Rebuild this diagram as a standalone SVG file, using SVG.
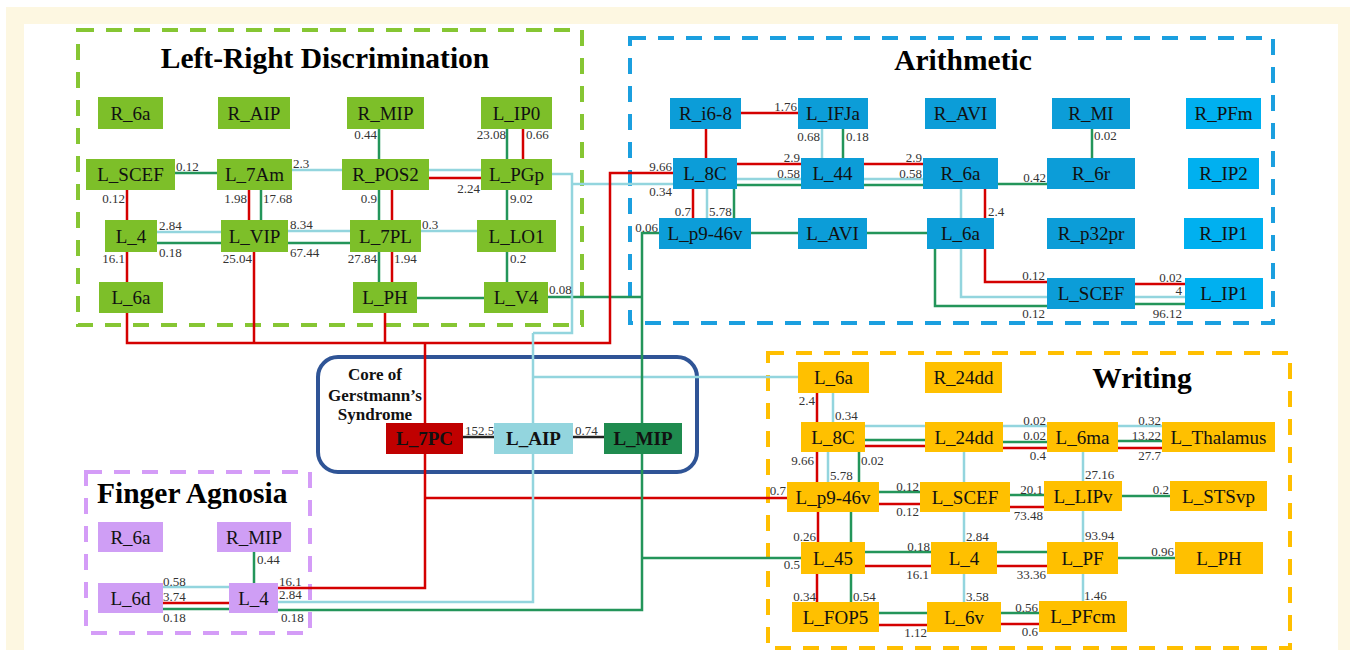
<svg xmlns="http://www.w3.org/2000/svg" width="1356" height="650" viewBox="0 0 1356 650">
<style>
.n{font-family:"Liberation Serif","Times New Roman",serif;font-size:19px;fill:#111;text-anchor:middle}
.nb{font-family:"Liberation Serif","Times New Roman",serif;font-size:19px;font-weight:bold;fill:#111;text-anchor:middle}
.t{font-family:"Liberation Serif","Times New Roman",serif;font-size:29.5px;font-weight:bold;fill:#000}
.ct{font-family:"Liberation Serif","Times New Roman",serif;font-size:17px;font-weight:bold;fill:#111;text-anchor:middle}
.l{font-family:"Liberation Serif","Times New Roman",serif;font-size:13px;fill:#333}
.e{text-anchor:end}
.fg{fill:#7dbf29}.fa{fill:#0c9dd8}.fc{fill:#00b0f0}.fw{fill:#ffc000}.fp{fill:#cf9ef5}
.r,.b,.g,.k{fill:none;stroke-width:2.5}
.r{stroke:#d40000}.b{stroke:#93d5de}.g{stroke:#23955a}.k{stroke:#222}
.frame{fill:none;stroke-width:4;stroke-dasharray:16 12}
</style>
<rect x="0" y="0" width="1356" height="650" fill="#ffffff"/>
<rect x="6" y="7" width="1344" height="643" fill="#fdf7e1"/>
<rect x="24" y="24" width="1314" height="626" fill="#ffffff"/>

<g id="frames">
<rect class="frame" x="78" y="30" width="504" height="295" stroke="#86c633"/>
<rect class="frame" x="630" y="38" width="643" height="285" stroke="#1b9fdf"/>
<rect class="frame" x="768" y="353" width="522" height="295" stroke="#ffbf00"/>
<rect class="frame" x="86" y="472" width="224" height="161" stroke="#d49cf7"/>
<rect x="318" y="357" width="379" height="115" rx="20" fill="none" stroke="#2f5496" stroke-width="4"/>
<text class="t" x="325" y="68" text-anchor="middle">Left-Right Discrimination</text>
<text class="t" x="963" y="70" text-anchor="middle">Arithmetic</text>
<text class="t" x="1142" y="388" text-anchor="middle">Writing</text>
<text class="t" x="97" y="503">Finger Agnosia</text>
<text class="ct" x="375" y="380">Core of</text>
<text class="ct" x="375" y="401">Gerstmann’s</text>
<text class="ct" x="375" y="420">Syndrome</text>
</g>

<g id="connectors">
<!-- Left-Right Discrimination -->
<path class="g" d="M175 173H217"/>
<path class="r" d="M127 190V220"/>
<path class="r" d="M127 252V282"/>
<path class="r" d="M249 190V220"/>
<path class="g" d="M261 190V220"/>
<path class="b" d="M157 232H221"/>
<path class="g" d="M157 243H221"/>
<path class="b" d="M292 170H481"/>
<path class="r" d="M429 178H481"/>
<path class="g" d="M379 129V159"/>
<path class="g" d="M507 129V159"/>
<path class="r" d="M523 129V159"/>
<path class="g" d="M379 190V220"/>
<path class="r" d="M392 190V220"/>
<path class="g" d="M507 190V220"/>
<path class="b" d="M288 231H477"/>
<path class="g" d="M288 243H350"/>
<path class="g" d="M379 252V282"/>
<path class="r" d="M392 252V282"/>
<path class="g" d="M507 252V282"/>
<path class="g" d="M417 298H484"/>
<!-- core trunks -->
<path class="g" d="M548 297H642"/>
<path class="b" d="M552 174H572V333H533"/>
<path class="b" d="M572 184H673"/>
<path class="r" d="M127 313V343H610V173H673"/>
<path class="r" d="M254 252V343"/>
<path class="r" d="M385 313V343"/>
<path class="r" d="M425 343V588H278"/>
<path class="r" d="M425 498H787"/>
<path class="b" d="M533 333V602H278"/>
<path class="b" d="M533 377H798"/>
<path class="g" d="M659 233H642V610H278"/>
<path class="g" d="M642 558H801"/>
<path class="k" d="M463 437H494"/>
<path class="k" d="M573 437H604"/>
<!-- Arithmetic -->
<path class="r" d="M741 113H798"/>
<path class="r" d="M706 129V158"/>
<path class="b" d="M822 129V158"/>
<path class="g" d="M843 129V158"/>
<path class="r" d="M737 164H801"/>
<path class="r" d="M864 164H923"/>
<path class="b" d="M737 179H923"/>
<path class="g" d="M737 185H923"/>
<path class="g" d="M998 184H1047"/>
<path class="g" d="M1092 129V158"/>
<path class="b" d="M961 189V218"/>
<path class="b" d="M961 249V297H1047"/>
<path class="r" d="M985 189V218"/>
<path class="r" d="M985 249V282H1047"/>
<path class="g" d="M935 249V306H1047"/>
<path class="r" d="M1135 284H1185"/>
<path class="b" d="M1135 297H1185"/>
<path class="g" d="M1135 304H1185"/>
<path class="r" d="M693 189V218"/>
<path class="b" d="M707 189V218"/>
<path class="g" d="M734 189V218"/>
<path class="g" d="M751 233H798"/>
<path class="g" d="M867 233H927"/>
<!-- Writing -->
<path class="r" d="M817 393V422"/>
<path class="b" d="M833 393V422"/>
<path class="b" d="M865 426H1047"/>
<path class="g" d="M865 440H925"/>
<path class="r" d="M865 446H925"/>
<path class="g" d="M1003 442H1047"/>
<path class="r" d="M1003 448H1047"/>
<path class="b" d="M1118 426H1162"/>
<path class="g" d="M1118 441H1162"/>
<path class="r" d="M1118 448H1162"/>
<path class="b" d="M1083 452V481"/>
<path class="r" d="M817 452V482"/>
<path class="b" d="M828 452V482"/>
<path class="g" d="M859 452V482"/>
<path class="b" d="M964 452V482"/>
<path class="g" d="M879 492H920"/>
<path class="r" d="M879 504H920"/>
<path class="g" d="M1010 495H1044"/>
<path class="r" d="M1010 507H1044"/>
<path class="g" d="M1122 496H1170"/>
<path class="b" d="M1083 511V542"/>
<path class="r" d="M818 512V542"/>
<path class="g" d="M851 512V542"/>
<path class="b" d="M964 512V542"/>
<path class="g" d="M865 552H931"/>
<path class="r" d="M865 566H931"/>
<path class="g" d="M997 552H1047"/>
<path class="r" d="M997 566H1047"/>
<path class="g" d="M1118 558H1175"/>
<path class="r" d="M817 574V602"/>
<path class="g" d="M851 574V602"/>
<path class="b" d="M964 574V602"/>
<path class="b" d="M1083 574V601"/>
<path class="g" d="M879 613H927"/>
<path class="r" d="M879 625H927"/>
<path class="g" d="M1001 613H1039"/>
<path class="r" d="M1001 624H1039"/>
<!-- Finger Agnosia -->
<path class="g" d="M254 552V583"/>
<path class="b" d="M163 587H229"/>
<path class="r" d="M163 603H229"/>
<path class="g" d="M163 609H229"/>

<!-- labels -->
<text class="l" x="176" y="171">0.12</text>
<text class="l e" x="125" y="203">0.12</text>
<text class="l e" x="125" y="263">16.1</text>
<text class="l e" x="247" y="203">1.98</text>
<text class="l" x="263" y="203">17.68</text>
<text class="l" x="159" y="230">2.84</text>
<text class="l" x="159" y="257">0.18</text>
<text class="l e" x="252" y="263">25.04</text>
<text class="l" x="293" y="168">2.3</text>
<text class="l" x="290" y="229">8.34</text>
<text class="l" x="290" y="257">67.44</text>
<text class="l e" x="377" y="139">0.44</text>
<text class="l e" x="506" y="139">23.08</text>
<text class="l" x="526" y="139">0.66</text>
<text class="l e" x="480" y="193">2.24</text>
<text class="l e" x="377" y="203">0.9</text>
<text class="l" x="510" y="203">9.02</text>
<text class="l" x="422" y="229">0.3</text>
<text class="l e" x="377" y="263">27.84</text>
<text class="l" x="394" y="263">1.94</text>
<text class="l" x="510" y="263">0.2</text>
<text class="l" x="549" y="294">0.08</text>

<text class="l e" x="797" y="111">1.76</text>
<text class="l e" x="820" y="141">0.68</text>
<text class="l" x="846" y="141">0.18</text>
<text class="l e" x="672" y="171">9.66</text>
<text class="l e" x="672" y="196">0.34</text>
<text class="l e" x="800" y="162">2.9</text>
<text class="l e" x="800" y="178">0.58</text>
<text class="l e" x="922" y="162">2.9</text>
<text class="l e" x="922" y="178">0.58</text>
<text class="l e" x="691" y="216">0.7</text>
<text class="l" x="709" y="216">5.78</text>
<text class="l e" x="658" y="232">0.06</text>
<text class="l e" x="1046" y="182">0.42</text>
<text class="l" x="1094" y="140">0.02</text>
<text class="l" x="988" y="216">2.4</text>
<text class="l e" x="1045" y="280">0.12</text>
<text class="l e" x="1045" y="318">0.12</text>
<text class="l e" x="1182" y="282">0.02</text>
<text class="l e" x="1182" y="295">4</text>
<text class="l e" x="1182" y="318">96.12</text>

<text class="l e" x="815" y="405">2.4</text>
<text class="l" x="835" y="420">0.34</text>
<text class="l e" x="1046" y="425">0.02</text>
<text class="l e" x="1046" y="440">0.02</text>
<text class="l e" x="1046" y="460">0.4</text>
<text class="l e" x="1161" y="425">0.32</text>
<text class="l e" x="1161" y="440">13.22</text>
<text class="l e" x="1161" y="460">27.7</text>
<text class="l" x="1085" y="479">27.16</text>
<text class="l e" x="814" y="465">9.66</text>
<text class="l" x="830" y="480">5.78</text>
<text class="l" x="861" y="465">0.02</text>
<text class="l e" x="786" y="495">0.7</text>
<text class="l e" x="919" y="491">0.12</text>
<text class="l e" x="919" y="516">0.12</text>
<text class="l e" x="1043" y="494">20.1</text>
<text class="l e" x="1043" y="520">73.48</text>
<text class="l e" x="1169" y="494">0.2</text>
<text class="l" x="1085" y="540">93.94</text>
<text class="l e" x="816" y="541">0.26</text>
<text class="l" x="966" y="541">2.84</text>
<text class="l e" x="930" y="551">0.18</text>
<text class="l e" x="800" y="569">0.5</text>
<text class="l e" x="929" y="579">16.1</text>
<text class="l e" x="1046" y="579">33.36</text>
<text class="l e" x="1174" y="556">0.96</text>
<text class="l e" x="816" y="601">0.34</text>
<text class="l" x="853" y="601">0.54</text>
<text class="l" x="966" y="601">3.58</text>
<text class="l" x="1084" y="600">1.46</text>
<text class="l e" x="927" y="637">1.12</text>
<text class="l e" x="1038" y="612">0.56</text>
<text class="l e" x="1038" y="636">0.6</text>

<text class="l" x="257" y="564">0.44</text>
<text class="l" x="163" y="586">0.58</text>
<text class="l" x="163" y="601">3.74</text>
<text class="l" x="163" y="622">0.18</text>
<text class="l" x="279" y="586">16.1</text>
<text class="l" x="279" y="599">2.84</text>
<text class="l" x="281" y="622">0.18</text>
<text class="l" x="465" y="435">152.5</text>
<text class="l" x="575" y="435">0.74</text>
</g>

<!-- Left-Right Discrimination nodes -->
<g id="lrd-R_6a"><rect class="fg" x="98" y="97" width="65" height="32"/><text class="n" x="130.5" y="119.5">R_6a</text></g>
<g id="lrd-R_AIP"><rect class="fg" x="218" y="97" width="72" height="32"/><text class="n" x="254" y="119.5">R_AIP</text></g>
<g id="lrd-R_MIP"><rect class="fg" x="347" y="97" width="77" height="32"/><text class="n" x="385.5" y="119.5">R_MIP</text></g>
<g id="lrd-L_IP0"><rect class="fg" x="481" y="97" width="71" height="32"/><text class="n" x="516.5" y="119.5">L_IP0</text></g>
<g id="lrd-L_SCEF"><rect class="fg" x="86" y="159" width="89" height="31"/><text class="n" x="130.5" y="181">L_SCEF</text></g>
<g id="lrd-L_7Am"><rect class="fg" x="217" y="159" width="75" height="31"/><text class="n" x="254.5" y="181">L_7Am</text></g>
<g id="lrd-R_POS2"><rect class="fg" x="342" y="159" width="87" height="31"/><text class="n" x="385.5" y="181">R_POS2</text></g>
<g id="lrd-L_PGp"><rect class="fg" x="481" y="159" width="71" height="31"/><text class="n" x="516.5" y="181">L_PGp</text></g>
<g id="lrd-L_4"><rect class="fg" x="105" y="220" width="52" height="32"/><text class="n" x="131" y="242.5">L_4</text></g>
<g id="lrd-L_VIP"><rect class="fg" x="221" y="220" width="67" height="32"/><text class="n" x="254.5" y="242.5">L_VIP</text></g>
<g id="lrd-L_7PL"><rect class="fg" x="350" y="220" width="71" height="32"/><text class="n" x="385.5" y="242.5">L_7PL</text></g>
<g id="lrd-L_LO1"><rect class="fg" x="477" y="220" width="79" height="32"/><text class="n" x="516.5" y="242.5">L_LO1</text></g>
<g id="lrd-L_6a"><rect class="fg" x="99" y="282" width="64" height="31"/><text class="n" x="131" y="304">L_6a</text></g>
<g id="lrd-L_PH"><rect class="fg" x="353" y="282" width="64" height="31"/><text class="n" x="385" y="304">L_PH</text></g>
<g id="lrd-L_V4"><rect class="fg" x="484" y="282" width="64" height="31"/><text class="n" x="516" y="304">L_V4</text></g>

<!-- Arithmetic nodes -->
<g id="ar-R_i6-8"><rect class="fa" x="670" y="98" width="71" height="31"/><text class="n" x="705.5" y="120">R_i6-8</text></g>
<g id="ar-L_IFJa"><rect class="fa" x="798" y="98" width="70" height="31"/><text class="n" x="833" y="120">L_IFJa</text></g>
<g id="ar-R_AVI"><rect class="fa" x="925" y="98" width="71" height="31"/><text class="n" x="960.5" y="120">R_AVI</text></g>
<g id="ar-R_MI"><rect class="fa" x="1052" y="98" width="78" height="31"/><text class="n" x="1091" y="120">R_MI</text></g>
<g id="ar-R_PFm"><rect class="fc" x="1186" y="98" width="75" height="31"/><text class="n" x="1223.5" y="120">R_PFm</text></g>
<g id="ar-L_8C"><rect class="fa" x="673" y="158" width="64" height="31"/><text class="n" x="705" y="180">L_8C</text></g>
<g id="ar-L_44"><rect class="fa" x="801" y="158" width="63" height="31"/><text class="n" x="832.5" y="180">L_44</text></g>
<g id="ar-R_6a"><rect class="fa" x="923" y="158" width="75" height="31"/><text class="n" x="960.5" y="180">R_6a</text></g>
<g id="ar-R_6r"><rect class="fa" x="1047" y="158" width="88" height="31"/><text class="n" x="1091" y="180">R_6r</text></g>
<g id="ar-R_IP2"><rect class="fc" x="1188" y="158" width="71" height="31"/><text class="n" x="1223.5" y="180">R_IP2</text></g>
<g id="ar-L_p9-46v"><rect class="fa" x="659" y="218" width="92" height="31"/><text class="n" x="705" y="240">L_p9-46v</text></g>
<g id="ar-L_AVI"><rect class="fa" x="798" y="218" width="69" height="31"/><text class="n" x="832.5" y="240">L_AVI</text></g>
<g id="ar-L_6a"><rect class="fa" x="927" y="218" width="67" height="31"/><text class="n" x="960.5" y="240">L_6a</text></g>
<g id="ar-R_p32pr"><rect class="fa" x="1047" y="218" width="88" height="31"/><text class="n" x="1091" y="240">R_p32pr</text></g>
<g id="ar-R_IP1"><rect class="fc" x="1184" y="218" width="79" height="31"/><text class="n" x="1223.5" y="240">R_IP1</text></g>
<g id="ar-L_SCEF"><rect class="fa" x="1047" y="278" width="88" height="31"/><text class="n" x="1091" y="300">L_SCEF</text></g>
<g id="ar-L_IP1"><rect class="fc" x="1185" y="278" width="78" height="31"/><text class="n" x="1224" y="300">L_IP1</text></g>

<!-- Core nodes -->
<g id="core-L_7PC"><rect fill="#c00000" x="386" y="423" width="77" height="31"/><text class="nb" x="424.5" y="445">L_7PC</text></g>
<g id="core-L_AIP"><rect fill="#93d5de" x="494" y="423" width="79" height="31"/><text class="nb" x="533.5" y="445">L_AIP</text></g>
<g id="core-L_MIP"><rect fill="#1f8b4f" x="604" y="423" width="78" height="31"/><text class="nb" x="643" y="445">L_MIP</text></g>

<!-- Writing nodes -->
<g id="wr-L_6a"><rect class="fw" x="798" y="362" width="71" height="31"/><text class="n" x="833.5" y="384">L_6a</text></g>
<g id="wr-R_24dd"><rect class="fw" x="925" y="362" width="77" height="31"/><text class="n" x="963.5" y="384">R_24dd</text></g>
<g id="wr-L_8C"><rect class="fw" x="801" y="422" width="64" height="30"/><text class="n" x="833" y="443.5">L_8C</text></g>
<g id="wr-L_24dd"><rect class="fw" x="925" y="422" width="78" height="30"/><text class="n" x="964" y="443.5">L_24dd</text></g>
<g id="wr-L_6ma"><rect class="fw" x="1047" y="422" width="71" height="30"/><text class="n" x="1082.5" y="443.5">L_6ma</text></g>
<g id="wr-L_Thalamus"><rect class="fw" x="1162" y="422" width="113" height="30"/><text class="n" x="1218.5" y="443.5">L_Thalamus</text></g>
<g id="wr-L_p9-46v"><rect class="fw" x="787" y="482" width="92" height="30"/><text class="n" x="833" y="503.5">L_p9-46v</text></g>
<g id="wr-L_SCEF"><rect class="fw" x="920" y="482" width="90" height="30"/><text class="n" x="965" y="503.5">L_SCEF</text></g>
<g id="wr-L_LIPv"><rect class="fw" x="1044" y="481" width="78" height="30"/><text class="n" x="1083" y="502.5">L_LIPv</text></g>
<g id="wr-L_STSvp"><rect class="fw" x="1170" y="481" width="97" height="30"/><text class="n" x="1218.5" y="502.5">L_STSvp</text></g>
<g id="wr-L_45"><rect class="fw" x="801" y="542" width="64" height="32"/><text class="n" x="833" y="564.5">L_45</text></g>
<g id="wr-L_4"><rect class="fw" x="931" y="542" width="66" height="32"/><text class="n" x="964" y="564.5">L_4</text></g>
<g id="wr-L_PF"><rect class="fw" x="1047" y="542" width="71" height="32"/><text class="n" x="1082.5" y="564.5">L_PF</text></g>
<g id="wr-L_PH"><rect class="fw" x="1175" y="542" width="88" height="32"/><text class="n" x="1219" y="564.5">L_PH</text></g>
<g id="wr-L_FOP5"><rect class="fw" x="792" y="602" width="87" height="30"/><text class="n" x="835.5" y="623.5">L_FOP5</text></g>
<g id="wr-L_6v"><rect class="fw" x="927" y="602" width="74" height="30"/><text class="n" x="964" y="623.5">L_6v</text></g>
<g id="wr-L_PFcm"><rect class="fw" x="1039" y="601" width="88" height="31"/><text class="n" x="1083" y="623">L_PFcm</text></g>

<!-- Finger Agnosia nodes -->
<g id="fa-R_6a"><rect class="fp" x="98" y="522" width="65" height="30"/><text class="n" x="130.5" y="543.5">R_6a</text></g>
<g id="fa-R_MIP"><rect class="fp" x="217" y="522" width="74" height="30"/><text class="n" x="254" y="543.5">R_MIP</text></g>
<g id="fa-L_6d"><rect class="fp" x="98" y="583" width="65" height="30"/><text class="n" x="130.5" y="604.5">L_6d</text></g>
<g id="fa-L_4"><rect class="fp" x="229" y="583" width="49" height="30"/><text class="n" x="253.5" y="604.5">L_4</text></g>
</svg>
